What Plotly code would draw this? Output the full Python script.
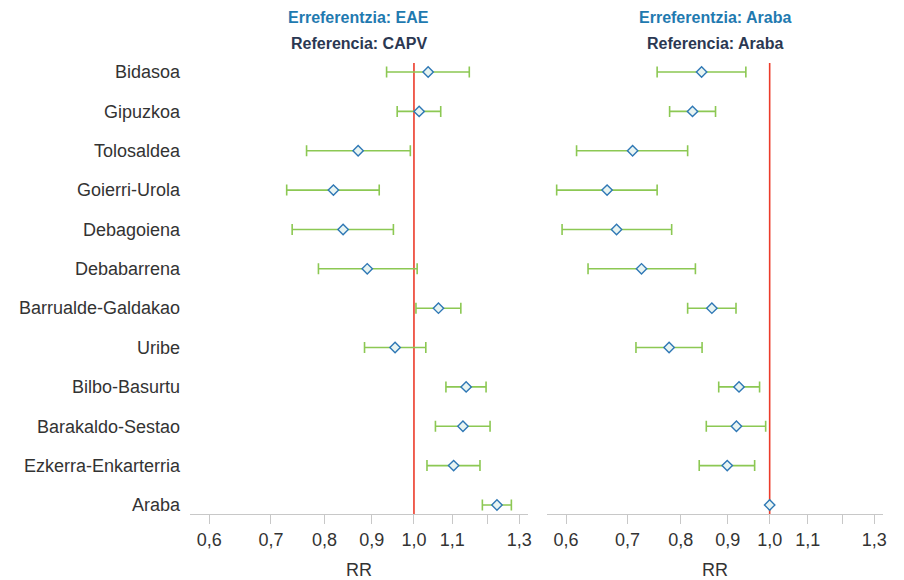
import plotly.graph_objects as go

categories = ["Bidasoa", "Gipuzkoa", "Tolosaldea", "Goierri-Urola", "Debagoiena",
              "Debabarrena", "Barrualde-Galdakao", "Uribe", "Bilbo-Basurtu",
              "Barakaldo-Sestao", "Ezkerra-Enkarterria", "Araba"]

# Panel 1: Erreferentzia EAE / Referencia CAPV
rr_eae = [1.036, 1.013, 0.870, 0.818, 0.838, 0.890, 1.063, 0.954, 1.139, 1.130, 1.104, 1.230]
lo_eae = [0.934, 0.959, 0.765, 0.728, 0.738, 0.788, 1.005, 0.884, 1.083, 1.055, 1.033, 1.186]
hi_eae = [1.148, 1.069, 0.991, 0.917, 0.950, 1.008, 1.124, 1.030, 1.197, 1.209, 1.179, 1.275]

# Panel 2: Erreferentzia Araba / Referencia Araba
rr_ara = [0.843, 0.824, 0.709, 0.665, 0.681, 0.725, 0.865, 0.777, 0.926, 0.920, 0.899, 1.000]
lo_ara = [0.754, 0.778, 0.616, 0.586, 0.594, 0.634, 0.814, 0.715, 0.880, 0.853, 0.838, 1.000]
hi_ara = [0.942, 0.873, 0.814, 0.754, 0.782, 0.830, 0.919, 0.844, 0.975, 0.990, 0.963, 1.000]

tick_vals = [0.6, 0.7, 0.8, 0.9, 1.0, 1.1, 1.2, 1.3]
tick_text = ["0,6", "0,7", "0,8", "0,9", "1,0", "1,1", "", "1,3"]

titles_top = ["Erreferentzia: EAE", "Erreferentzia: Araba"]
titles_sub = ["Referencia: CAPV", "Referencia: Araba"]

n = len(categories)
ypos = [n - 1 - i for i in range(n)]

GREEN = "#8cc853"
BLUE = "#2f78b5"
RED = "#ec3b2a"
TXT = "#333333"
FONT = "Liberation Sans, Arial"

# page body has an 8px default margin; figure is sized to fit the 904x580 window
OFF = 8
W, H = 904 - OFF, 580 - OFF
L, T = 190 - OFF, 63 - OFF
R = 904 - 883
B = 580 - 514

fig = go.Figure()

panels = [(rr_eae, lo_eae, hi_eae, "x", "y"), (rr_ara, lo_ara, hi_ara, "x2", "y2")]
for rr, lo, hi, xa, ya in panels:
    fig.add_trace(go.Scatter(
        x=rr, y=ypos, mode="markers", xaxis=xa, yaxis=ya,
        marker=dict(symbol="diamond", size=8, color="#e8f4f2",
                    line=dict(color=BLUE, width=1.4)),
        error_x=dict(type="data", symmetric=False,
                     array=[h - r for h, r in zip(hi, rr)],
                     arrayminus=[r - l for r, l in zip(rr, lo)],
                     color=GREEN, thickness=1.6, width=5.5),
        showlegend=False, hoverinfo="skip", cliponaxis=False,
    ))

xrange_log = [-0.2426, 0.1235]
yrange = [-0.23, n - 1 + 0.23]

common_x = dict(type="log", range=xrange_log, tickvals=tick_vals, ticktext=tick_text,
                showgrid=False, zeroline=False, showline=True, linecolor="#c8c8c8",
                linewidth=1.2, ticks="outside", ticklen=9, tickcolor="#c8c8c8",
                tickfont=dict(family=FONT, size=18, color=TXT),
                title=dict(text="RR", font=dict(family=FONT, size=18, color=TXT),
                           standoff=14))

fig.update_layout(
    width=W, height=H,
    margin=dict(l=L, r=R, t=T, b=B, autoexpand=False),
    paper_bgcolor="white", plot_bgcolor="white",
    xaxis=dict(domain=[0, 0.4877], **common_x),
    xaxis2=dict(domain=[0.5152, 1.0], anchor="y2", **common_x),
    yaxis=dict(range=yrange, tickvals=ypos, ticktext=categories, showgrid=False,
               zeroline=False, showline=False, ticks="", ticklabelstandoff=9,
               tickfont=dict(family=FONT, size=18, color=TXT)),
    yaxis2=dict(range=yrange, anchor="x2", showgrid=False, zeroline=False,
                showline=False, showticklabels=False),
)

shapes = []
for xa in ["x", "x2"]:
    shapes.append(dict(type="line", xref=xa, yref="paper", x0=1.0, x1=1.0, y0=0, y1=1,
                       line=dict(color=RED, width=1.6), layer="below"))
fig.update_layout(shapes=shapes)

centers = [0.4877 / 2, (0.5152 + 1.0) / 2]
plot_h = H - T - B
annotations = []
for c, t1, t2 in zip(centers, titles_top, titles_sub):
    for txt, ypix, col in [(t1, 18, "#1f7ab0"), (t2, 44, "#2b3852")]:
        annotations.append(dict(text="<b>" + txt + "</b>", x=c, xanchor="center",
                                y=1 + (63 - ypix) / plot_h, yanchor="middle",
                                xref="paper", yref="paper", showarrow=False,
                                font=dict(family=FONT, size=16, color=col)))
fig.update_layout(annotations=annotations)

fig.write_html("out.html")
